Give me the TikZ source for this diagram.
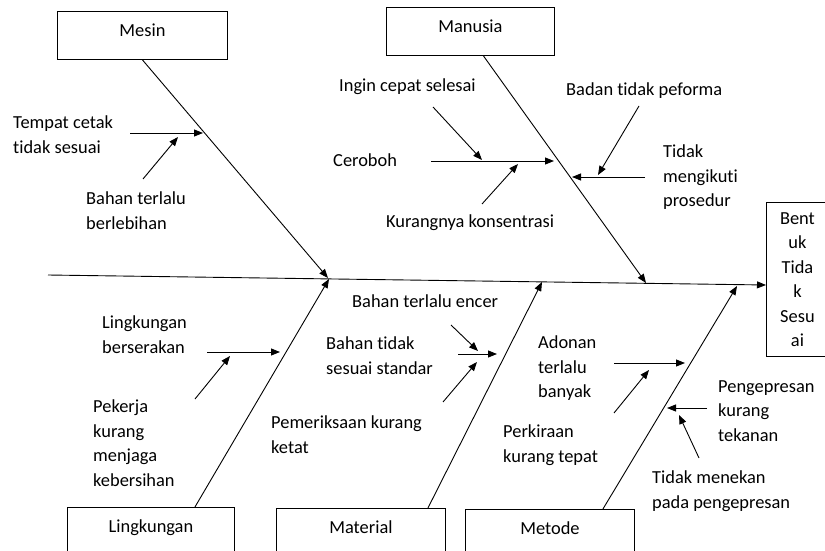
\documentclass[tikz,border=0pt]{standalone}
\usepackage{fontspec}
\setmainfont{Carlito}[Ligatures=NoCommon]
\usetikzlibrary{arrows.meta}

\tikzset{
  box/.style={draw, line width=0.9pt, inner xsep=0pt, inner ysep=13pt,
    text height=12pt, text depth=10pt, anchor=north west},
  cause/.style={inner sep=0pt, align=left, anchor=north west, yshift=-3pt},
  arr/.style={line width=0.9pt, -{Triangle[length=9pt,width=7pt]}},
}

\begin{document}
\begin{tikzpicture}[x=1pt, y=-1pt, font=\fontsize{18.4}{24.5}\selectfont]
                \useasboundingbox (0,0) rectangle (825,551);
                \clip (0,0) rectangle (825,551);

                \node[box, minimum width=170pt] (mesin) at (57,11) {Mesin};
                \node[box, minimum width=168pt] (manusia) at (386,7) {Manusia};
                \node[box, minimum width=167pt, text depth=40pt] (lingk) at (67,507) {Lingkungan};
                \node[box, minimum width=169pt, text depth=40pt] (material) at (276,508) {Material};
                \node[box, minimum width=169pt, text depth=40pt] (metode) at (465,509) {Metode};
                \node[draw, line width=0.9pt, align=center, inner sep=0pt, anchor=north west,
                  minimum width=62pt, minimum height=154pt] (akibat) at (766,202)
                  {Bent\\uk\\Tida\\k\\Sesu\\ai};

                \coordinate (ekor) at (48,275);
                \coordinate (kepala) at (766,285);
                \coordinate (jMesin) at (328,278);
                \coordinate (jLingk) at (329,279);
                \coordinate (jManusia) at (646,283);
                \coordinate (jMaterial) at (542,282);
                \coordinate (jMetode) at (737,286);

                \draw[arr] (ekor) -- (kepala);
                \draw[arr] (mesin.south) -- (jMesin);
                \draw[arr] ([xshift=13pt]manusia.south) -- (jManusia);
                \draw[arr] ([xshift=44pt]lingk.north) -- (jLingk);
                \draw[arr] ([xshift=67pt]material.north) -- (jMaterial);
                \draw[arr] ([xshift=53pt]metode.north) -- (jMetode);

                % Mesin
                \coordinate (a1) at (130,133); \coordinate (a2) at (203,133);
                \coordinate (a3) at (143,179); \coordinate (a4) at (178,137);
                \draw[arr] (a1) -- (a2);
                \draw[arr] (a3) -- (a4);
                \node[cause] (tempat) at (13,113) {Tempat cetak\\tidak sesuai};
                \node[cause] (lebih) at (86,189) {Bahan terlalu\\berlebihan};

                % Manusia
                \coordinate (b1) at (433,107); \coordinate (b2) at (482,160);
                \coordinate (b3) at (431,161); \coordinate (b4) at (554,161);
                \coordinate (b5) at (482,204); \coordinate (b6) at (518,164);
                \coordinate (b7) at (639,106); \coordinate (b8) at (598,175);
                \coordinate (b9) at (645,177); \coordinate (b10) at (572,177);
                \draw[arr] (b1) -- (b2);
                \draw[arr] (b3) -- (b4);
                \draw[arr] (b5) -- (b6);
                \draw[arr] (b7) -- (b8);
                \draw[arr] (b9) -- (b10);
                \node[cause] (ingin) at (339,76) {Ingin cepat selesai};
                \node[cause] (ceroboh) at (333,151) {Ceroboh};
                \node[cause] (konsen) at (386,212) {Kurangnya konsentrasi};
                \node[cause] (badan) at (566,80) {Badan tidak peforma};
                \node[cause] (prosedur) at (663,142) {Tidak\\mengikuti\\prosedur};

                % Lingkungan
                \coordinate (c1) at (207,352); \coordinate (c2) at (280,352);
                \coordinate (c3) at (195,399); \coordinate (c4) at (230,356);
                \draw[arr] (c1) -- (c2);
                \draw[arr] (c3) -- (c4);
                \node[cause] (serakan) at (102,313) {Lingkungan\\berserakan};
                \node[cause] (pekerja) at (93,397) {Pekerja\\kurang\\menjaga\\kebersihan};

                % Material
                \coordinate (d1) at (451,325); \coordinate (d2) at (478,351);
                \coordinate (d3) at (458,354); \coordinate (d4) at (497,354);
                \coordinate (d5) at (443,402); \coordinate (d6) at (477,362);
                \draw[arr] (d1) -- (d2);
                \draw[arr] (d3) -- (d4);
                \draw[arr] (d5) -- (d6);
                \node[cause] (encer) at (352,292) {Bahan terlalu encer};
                \node[cause] (standar) at (326,334) {Bahan tidak\\sesuai standar};
                \node[cause] (periksa) at (271,413) {Pemeriksaan kurang\\ketat};

                % Metode
                \coordinate (e1) at (614,363); \coordinate (e2) at (685,363);
                \coordinate (e3) at (614,413); \coordinate (e4) at (649,370);
                \coordinate (e5) at (707,408); \coordinate (e6) at (667,408);
                \coordinate (e7) at (699,458); \coordinate (e8) at (679,415);
                \draw[arr] (e1) -- (e2);
                \draw[arr] (e3) -- (e4);
                \draw[arr] (e5) -- (e6);
                \draw[arr] (e7) -- (e8);
                \node[cause] (adonan) at (538,333) {Adonan\\terlalu\\banyak};
                \node[cause] (kira) at (503,422) {Perkiraan\\kurang tepat};
                \node[cause] (tekanan) at (718,377) {Pengepresan\\kurang\\tekanan};
                \node[cause] (menekan) at (652,468) {Tidak menekan\\pada pengepresan};
            \end{tikzpicture}
\end{document}
